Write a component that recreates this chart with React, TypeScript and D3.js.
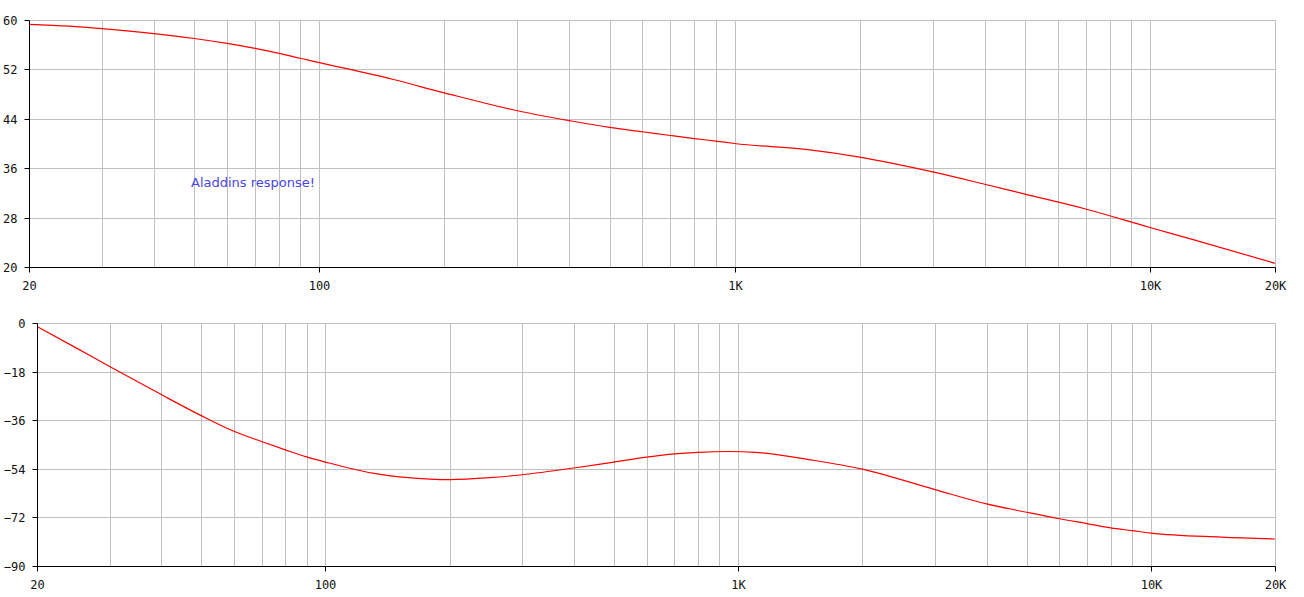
import React from "react";
import * as d3 from "d3";

const xTickValues = [20, 100, 1000, 10000, 20000];
const xTickLabels = ["20", "100", "1K", "10K", "20K"];
const gridFreqs = [
  20, 30, 40, 50, 60, 70, 80, 90, 100, 200, 300, 400, 500, 600, 700, 800, 900,
  1000, 2000, 3000, 4000, 5000, 6000, 7000, 8000, 9000, 10000, 20000,
];

const magTicks = [20, 28, 36, 44, 52, 60];
const phaseTicks = [-90, -72, -54, -36, -18, 0];

const magFreq = [
  20, 25, 30, 40, 50, 60, 70, 80, 90, 100, 150, 200, 300, 400, 500, 600, 700,
  800, 900, 1000, 1500, 2000, 3000, 4000, 5000, 7000, 10000, 12770, 20000,
];
const magDb = [
  59.3, 59.0, 58.6, 57.8, 57.0, 56.2, 55.4, 54.6, 53.8, 53.1, 50.4, 48.2, 45.3,
  43.7, 42.6, 41.9, 41.3, 40.8, 40.4, 40.0, 39.0, 37.8, 35.4, 33.4, 31.8, 29.4,
  26.4, 24.4, 20.6,
];

const phaseFreq = [
  20, 25, 30, 40, 50, 60, 70, 80, 90, 100, 130, 179, 200, 250, 300, 400, 500,
  600, 700, 800, 950, 1100, 1500, 2000, 3000, 4000, 5000, 6000, 7000,
  8000, 9000, 10000, 14800, 20000,
];
const phaseDeg = [
  -1.3, -9.4, -16.1, -26.5, -34.3, -40.1, -43.9, -47.0, -49.6, -51.5, -55.6,
  -57.8, -58.0, -57.3, -56.2, -53.7, -51.5, -49.7, -48.5, -47.9, -47.6, -47.9,
  -50.7, -54.1, -61.7, -67.0, -70.1, -72.5, -74.3, -75.9, -76.9, -77.8,
  -79.3, -80.0,
];

const annotation = "Aladdins response!";

const W = 1304;
const H = 597;
const labelFont = "'DejaVu Sans Mono', monospace";

type PlotProps = {
  left: number;
  right: number;
  top: number;
  bottom: number;
  yDomain: [number, number];
  yTicks: number[];
  freqs: number[];
  values: number[];
};

function Plot({ left, right, top, bottom, yDomain, yTicks, freqs, values }: PlotProps) {
  const x = d3.scaleLog().domain([20, 20000]).range([left, right]);
  const y = d3.scaleLinear().domain(yDomain).range([bottom, top]);
  const px = (v: number) => Math.round(x(v)) + 0.5;
  const py = (v: number) => Math.round(y(v)) + 0.5;
  const line = d3
    .line<number>()
    .x((_, i) => x(freqs[i]))
    .y((d) => y(d))
    .curve(d3.curveMonotoneX);
  const axX = px(20);
  const axY = py(yDomain[0]);
  return (
    <g>
      {gridFreqs.map((f) => (
        <line key={"gx" + f} x1={px(f)} x2={px(f)} y1={py(yDomain[1])} y2={axY} stroke="#c0c0c0" strokeWidth={1} />
      ))}
      {yTicks.map((t) => (
        <line key={"gy" + t} x1={axX} x2={px(20000)} y1={py(t)} y2={py(t)} stroke="#c0c0c0" strokeWidth={1} />
      ))}
      <path d={line(values) || ""} fill="none" stroke="#ff0000" strokeWidth={1.2} />
      <line x1={axX} x2={axX} y1={py(yDomain[1])} y2={axY} stroke="#000" strokeWidth={1} />
      <line x1={axX} x2={px(20000)} y1={axY} y2={axY} stroke="#000" strokeWidth={1} />
      {yTicks.map((t) => (
        <g key={"ty" + t}>
          <line x1={axX - 5} x2={axX} y1={py(t)} y2={py(t)} stroke="#000" strokeWidth={1} />
          <text x={axX - 12} y={py(t)} dy="0.35em" textAnchor="end" fontFamily={labelFont} fontSize={12} fill="#111">
            {t < 0 ? "\u2212" + Math.abs(t) : String(t)}
          </text>
        </g>
      ))}
      {xTickValues.map((t, i) => (
        <g key={"tx" + t}>
          <line x1={px(t)} x2={px(t)} y1={axY} y2={axY + 5} stroke="#000" strokeWidth={1} />
          <text x={px(t)} y={axY + 18} dy="0.35em" textAnchor="middle" fontFamily={labelFont} fontSize={12} fill="#111">
            {xTickLabels[i]}
          </text>
        </g>
      ))}
    </g>
  );
}

export default function App() {
  return (
    <svg width={W} height={H} style={{ position: "absolute", left: 0, top: 0, background: "#fff" }}>
      <rect width={W} height={H} fill="#fff" />
      <Plot left={29} right={1275} top={20} bottom={267} yDomain={[20, 60]} yTicks={magTicks} freqs={magFreq} values={magDb} />
      <Plot left={37} right={1275} top={323} bottom={566} yDomain={[-90, 0]} yTicks={phaseTicks} freqs={phaseFreq} values={phaseDeg} />
      <text x={191} y={187} fontFamily="'DejaVu Sans', Verdana, sans-serif" fontSize={13} fill="#4646e6">
        {annotation}
      </text>
    </svg>
  );
}
